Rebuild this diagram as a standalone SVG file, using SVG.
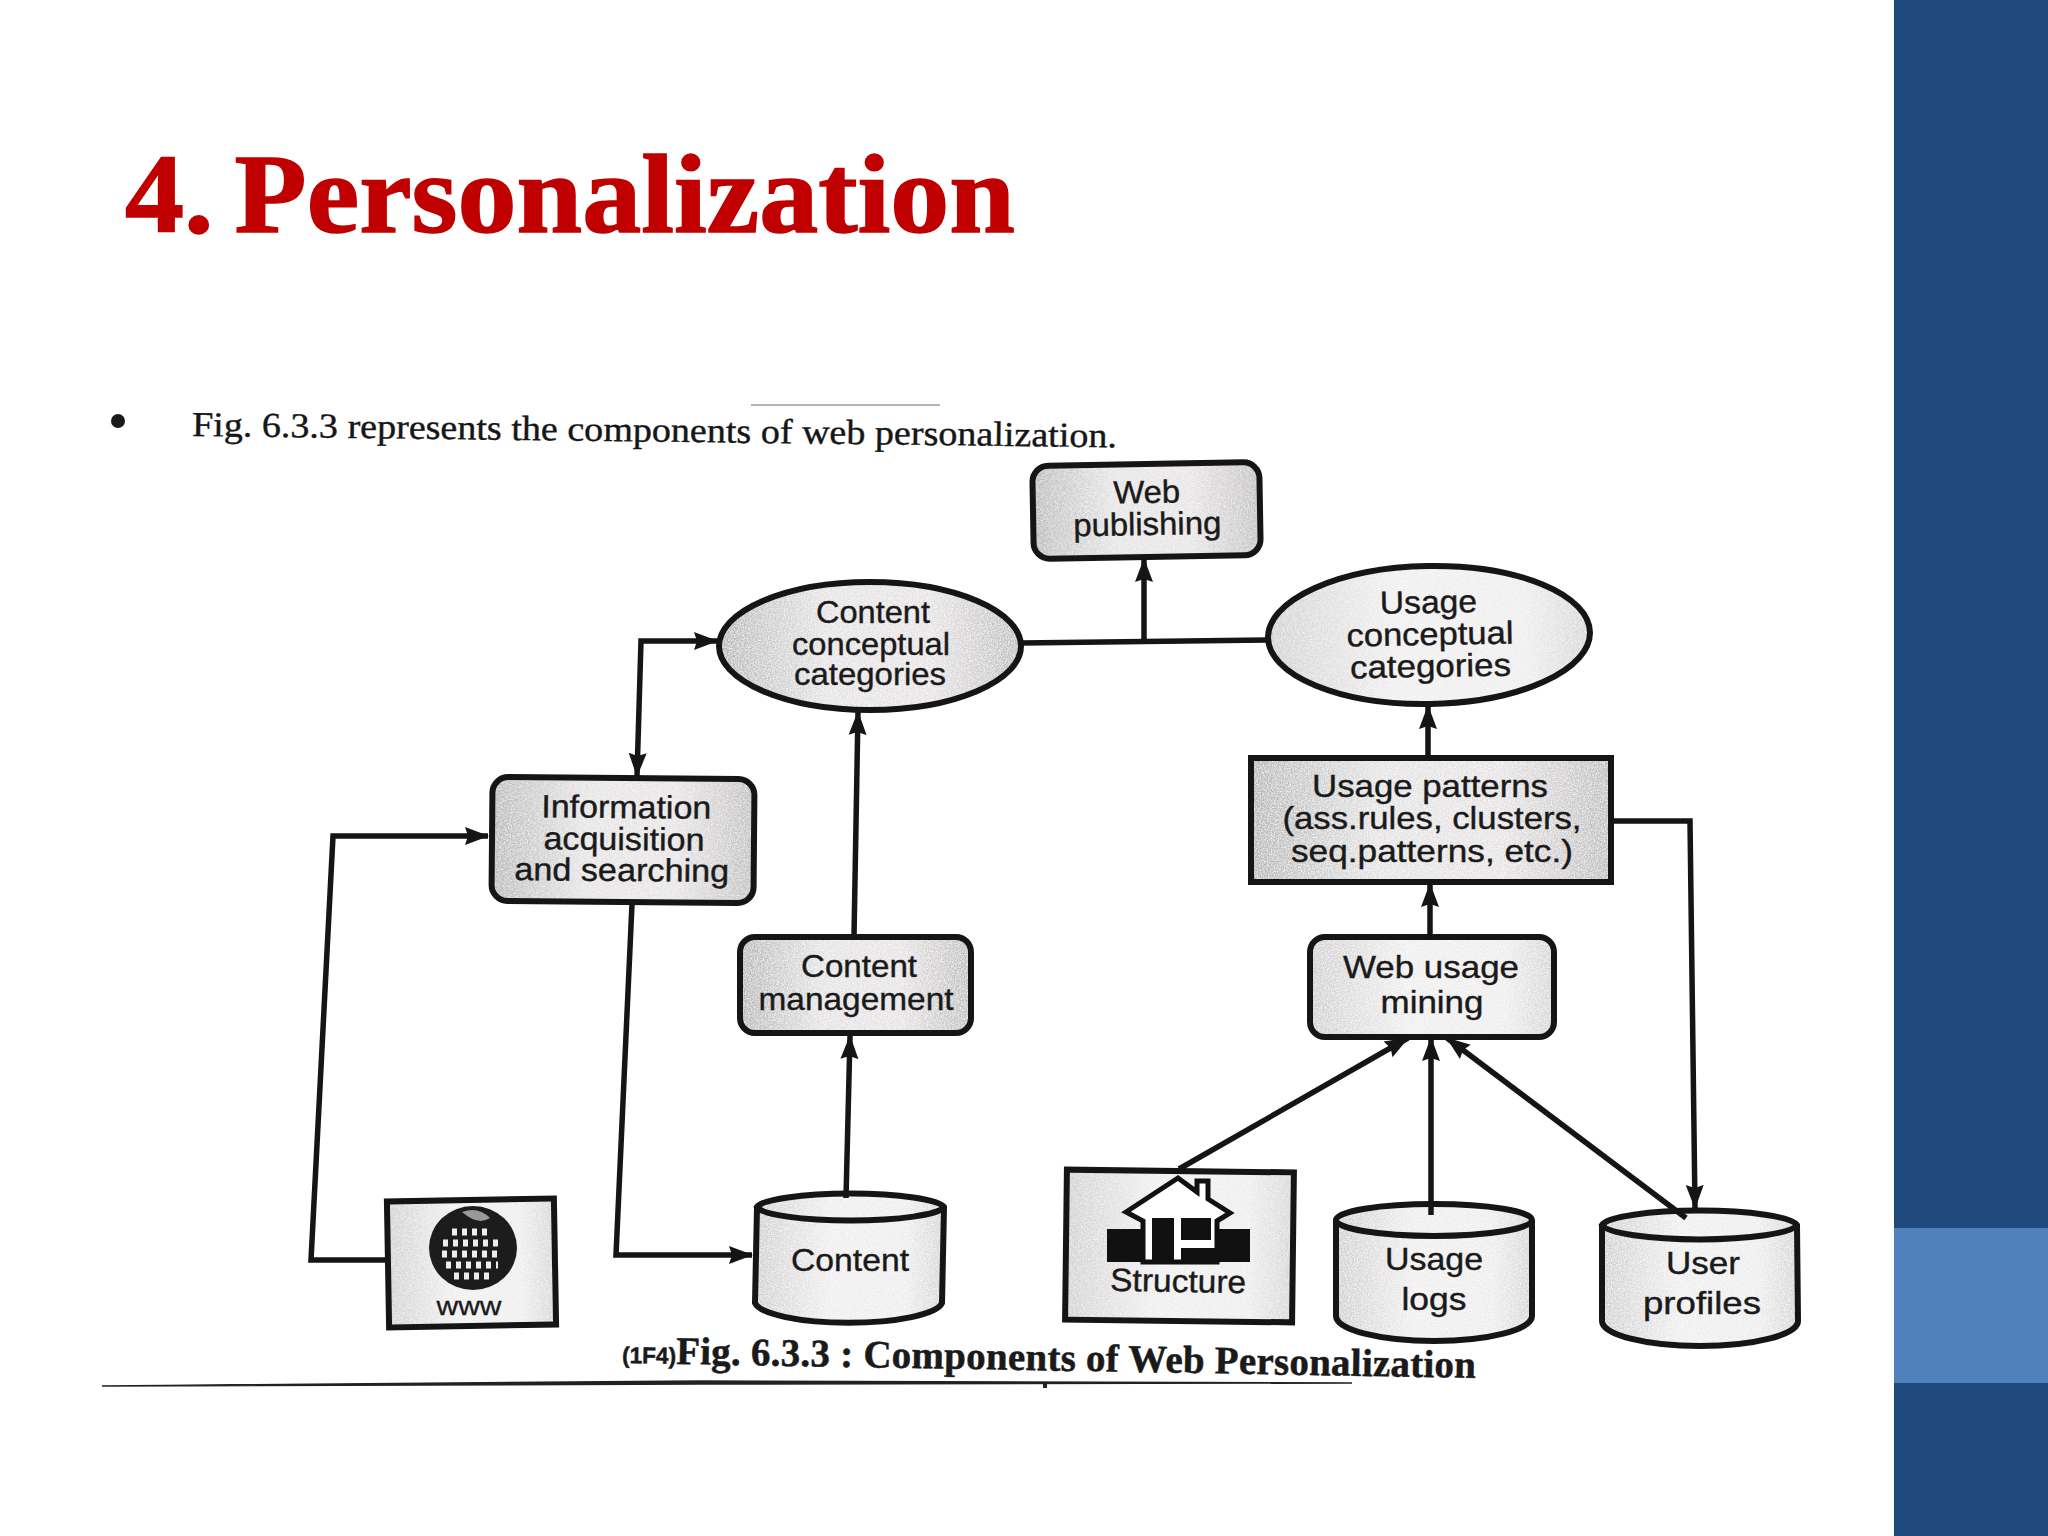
<svg xmlns="http://www.w3.org/2000/svg" width="2048" height="1536" viewBox="0 0 2048 1536">
<style>
.s{fill:none;stroke:#151515;stroke-width:5.5;stroke-linejoin:miter}
.f{fill:url(#g);stroke:none}
.f2{fill:url(#g2);stroke:none}
.o{fill:none;stroke:#151515;stroke-width:6}
.t{font-family:"Liberation Sans",Arial,sans-serif;font-size:32px;fill:#1a1a1a;stroke:#1a1a1a;stroke-width:.4;text-anchor:middle}
.p{font-family:"Liberation Serif","Times New Roman",serif;fill:#161616;stroke:#161616;stroke-width:.4}
</style>
<defs>
<linearGradient id="g"><stop offset="0" stop-color="#b4b4b4"/><stop offset=".35" stop-color="#e4e2e2"/><stop offset=".7" stop-color="#e6e2e4"/><stop offset="1" stop-color="#bcbabb"/></linearGradient>
<linearGradient id="g2"><stop offset="0" stop-color="#cfcdcd"/><stop offset=".4" stop-color="#f0eeee"/><stop offset=".8" stop-color="#eeecec"/><stop offset="1" stop-color="#d4d2d2"/></linearGradient>
<filter id="grain" x="0" y="0" width="1" height="1"><feTurbulence type="fractalNoise" baseFrequency=".7" numOctaves="2" seed="4" result="n"/><feColorMatrix in="n" type="matrix" values="0 0 0 0 1  0 0 0 0 1  0 0 0 0 1  1.6 0 0 0 -.55" result="w"/><feComposite in="w" in2="SourceGraphic" operator="in" result="m"/><feMerge><feMergeNode in="SourceGraphic"/><feMergeNode in="m"/></feMerge></filter>
<marker id="a" markerUnits="userSpaceOnUse" markerWidth="26" markerHeight="24" refX="23" refY="12" orient="auto-start-reverse"><path d="M0,3 L24,12 L0,21 L3,12 Z" fill="#151515"/></marker>
</defs>
<rect width="2048" height="1536" fill="#fff"/>
<rect x="1894" width="154" height="1536" fill="#1f497d"/>
<rect x="1894" y="1228" width="154" height="155" fill="#4f81bd"/>
<text x="125" y="232" font-family="'Liberation Serif',serif" font-weight="700" font-size="112" fill="#c00000" stroke="#c00000" stroke-width="1.5" word-spacing="-8" textLength="890" lengthAdjust="spacingAndGlyphs">4. Personalization</text>

<circle cx="118" cy="421" r="7" fill="#1a1a1a"/>
<path d="M751,405 L940,405" stroke="#b5b5b5" stroke-width="2"/>
<text class="p" transform="rotate(.7 192 430)" x="192" y="436" font-size="35" textLength="925" lengthAdjust="spacingAndGlyphs">Fig.  6.3.3 represents the components of web personalization.</text>

<g id="web-publishing" transform="rotate(-1 1146 510)">
<rect class="f" filter="url(#grain)" x="1033" y="464" width="227" height="93" rx="16"/><rect class="o" x="1033" y="464" width="227" height="93" rx="16"/>
<text class="t" x="1147" y="503" textLength="67" lengthAdjust="spacingAndGlyphs">Web</text><text class="t" x="1147" y="535" textLength="148" lengthAdjust="spacingAndGlyphs">publishing</text>
</g>
<g id="content-categories">
<ellipse class="f" filter="url(#grain)" cx="870" cy="646" rx="151" ry="64"/><ellipse class="o" cx="870" cy="646" rx="151" ry="64"/>
<text class="t" x="873" y="623" textLength="114" lengthAdjust="spacingAndGlyphs">Content</text><text class="t" x="871" y="655" textLength="158" lengthAdjust="spacingAndGlyphs">conceptual</text><text class="t" x="870" y="685" textLength="152" lengthAdjust="spacingAndGlyphs">categories</text>
</g>
<g id="usage-categories" transform="rotate(-1 1429 635)">
<ellipse class="f2" filter="url(#grain)" cx="1429" cy="635" rx="161" ry="69"/><ellipse class="o" cx="1429" cy="635" rx="161" ry="69"/>
<text class="t" x="1429" y="613" textLength="97" lengthAdjust="spacingAndGlyphs">Usage</text><text class="t" x="1430" y="645" textLength="167" lengthAdjust="spacingAndGlyphs">conceptual</text><text class="t" x="1430" y="677" textLength="161" lengthAdjust="spacingAndGlyphs">categories</text>
</g>
<g id="info-acquisition" transform="rotate(.5 623 840)">
<rect class="f" filter="url(#grain)" x="492" y="778" width="262" height="124" rx="16"/><rect class="o" x="492" y="778" width="262" height="124" rx="16"/>
<text class="t" x="626" y="818" textLength="170" lengthAdjust="spacingAndGlyphs">Information</text><text class="t" x="624" y="850" textLength="161" lengthAdjust="spacingAndGlyphs">acquisition</text><text class="t" x="622" y="881" textLength="215" lengthAdjust="spacingAndGlyphs">and searching</text>
</g>
<g id="content-management">
<rect class="f" filter="url(#grain)" x="740" y="937" width="231" height="96" rx="15"/><rect class="o" x="740" y="937" width="231" height="96" rx="15"/>
<text class="t" x="859" y="977" textLength="116" lengthAdjust="spacingAndGlyphs">Content</text><text class="t" x="856" y="1010" textLength="195" lengthAdjust="spacingAndGlyphs">management</text>
</g>
<g id="usage-patterns">
<rect class="f" filter="url(#grain)" x="1251" y="758" width="360" height="124"/><rect class="o" x="1251" y="758" width="360" height="124"/>
<text class="t" x="1430" y="797" textLength="236" lengthAdjust="spacingAndGlyphs">Usage patterns</text><text class="t" x="1432" y="829" textLength="299" lengthAdjust="spacingAndGlyphs">(ass.rules, clusters,</text><text class="t" x="1432" y="862" textLength="282" lengthAdjust="spacingAndGlyphs">seq.patterns, etc.)</text>
</g>
<g id="web-usage-mining">
<rect class="f2" filter="url(#grain)" x="1310" y="937" width="244" height="100" rx="15"/><rect class="o" x="1310" y="937" width="244" height="100" rx="15"/>
<text class="t" x="1431" y="978" textLength="176" lengthAdjust="spacingAndGlyphs">Web usage</text><text class="t" x="1432" y="1013" textLength="103" lengthAdjust="spacingAndGlyphs">mining</text>
</g>
<g id="www">
<g transform="rotate(-1 471 1263)"><rect class="f2" filter="url(#grain)" x="388" y="1200" width="167" height="126"/><rect class="o" x="388" y="1200" width="167" height="126"/></g>
<ellipse cx="473" cy="1248" rx="44" ry="42" fill="#1c1c1c"/>
<path d="M452,1232h40M443,1243h58M442,1254h60M446,1265h52M454,1276h36" stroke="#eee" stroke-width="7" stroke-dasharray="5 5" fill="none"/>
<path d="M462,1212 Q478,1206 490,1218 Q478,1226 462,1212Z" fill="#999"/>
<text class="t" x="469" y="1315" style="font-size:26px;stroke-width:.3" textLength="65" lengthAdjust="spacingAndGlyphs">www</text>
</g>
<g id="content">
<path class="f2" filter="url(#grain)" d="M757,1207 L755,1303 A94,22 0 0 0 942,1303 L944,1207 A94,15 0 0 0 757,1207 Z"/>
<path class="o" d="M757,1207 L755,1303 A94,22 0 0 0 942,1303 L944,1207 A94,15 0 0 0 757,1207 A94,15 0 0 0 944,1207"/>
<text class="t" x="850" y="1271" textLength="118" lengthAdjust="spacingAndGlyphs">Content</text>
</g>
<g id="structure">
<g transform="rotate(.7 1179 1245)"><rect class="f2" filter="url(#grain)" x="1066" y="1171" width="227" height="150"/><rect class="o" x="1066" y="1171" width="227" height="150"/></g>
<path d="M1107,1229H1250V1262H1107Z" fill="#111"/>
<path d="M1126,1212 L1178,1178 L1197,1192 V1181 H1208 V1199 L1230,1213 L1217,1221 V1262 H1143 V1221 Z" fill="#fff" stroke="#111" stroke-width="5"/>
<path d="M1152,1218H1174V1260H1152ZM1181,1218H1211V1240H1181Z" fill="#111"/>
<path d="M1217,1248H1181V1262H1217Z" fill="#111"/>
<text class="t" transform="rotate(1 1178 1290)" x="1178" y="1292" textLength="136" lengthAdjust="spacingAndGlyphs">Structure</text>
</g>
<g id="usage-logs">
<path class="f2" filter="url(#grain)" d="M1336,1220 L1336,1316 A98,25 0 0 0 1532,1316 L1532,1220 A98,16 0 0 0 1336,1220 Z"/>
<path class="o" d="M1336,1220 L1336,1316 A98,25 0 0 0 1532,1316 L1532,1220 A98,16 0 0 0 1336,1220 A98,16 0 0 0 1532,1220"/>
<text class="t" x="1434" y="1270" textLength="98" lengthAdjust="spacingAndGlyphs">Usage</text><text class="t" x="1434" y="1310" textLength="65" lengthAdjust="spacingAndGlyphs">logs</text>
</g>
<g id="user-profiles">
<path class="f2" filter="url(#grain)" d="M1602,1225 L1602,1321 A98,25 0 0 0 1798,1321 L1797,1225 A98,16 0 0 0 1602,1225 Z"/>
<path class="o" d="M1602,1225 L1602,1321 A98,25 0 0 0 1798,1321 L1797,1225 A98,16 0 0 0 1602,1225 A98,16 0 0 0 1797,1225"/>
<text class="t" x="1703" y="1274" textLength="74" lengthAdjust="spacingAndGlyphs">User</text><text class="t" x="1702" y="1314" textLength="118" lengthAdjust="spacingAndGlyphs">profiles</text>
</g>

<g id="connectors">
<path class="s" d="M385,1260 L311,1260 L333,836 L488,836" marker-end="url(#a)"/>
<path class="s" d="M632,904 L616,1255 L752,1255" marker-end="url(#a)"/>
<path class="s" d="M637,776 L641,641 L717,641" marker-start="url(#a)" marker-end="url(#a)"/>
<path class="s" d="M846,1198 L850,1036" marker-end="url(#a)"/>
<path class="s" d="M854,936 L858,712" marker-end="url(#a)"/>
<path class="s" d="M1021,643 L1267,640"/>
<path class="s" d="M1144,641 L1144,559" marker-end="url(#a)"/>
<path class="s" d="M1428,757 L1428,706" marker-end="url(#a)"/>
<path class="s" d="M1430,936 L1430,884" marker-end="url(#a)"/>
<path class="s" d="M1613,821 L1690,821 L1695,1208" marker-end="url(#a)"/>
<path class="s" d="M1179,1169 L1408,1038" marker-end="url(#a)"/>
<path class="s" d="M1431,1215 L1431,1038" marker-end="url(#a)"/>
<path class="s" d="M1686,1218 L1447,1038" marker-end="url(#a)"/>
</g>

<g font-family="'Liberation Serif',serif" font-weight="700" fill="#1a1a1a" stroke="#1a1a1a" stroke-width=".5">
<text transform="rotate(1 622 1360)" x="622" y="1363"><tspan font-family="'Liberation Sans',sans-serif" font-size="23" font-weight="700" textLength="54" lengthAdjust="spacingAndGlyphs">(1F4)</tspan><tspan font-size="39" textLength="800">Fig. 6.3.3 : Components of Web Personalization</tspan></text>
</g>
<path d="M102,1386 L700,1381 L1352,1383 L700,1384 Z" fill="#222" stroke="#222" stroke-width="1.5"/>
<path d="M1045,1382 V1388" stroke="#222" stroke-width="4"/>
</svg>
